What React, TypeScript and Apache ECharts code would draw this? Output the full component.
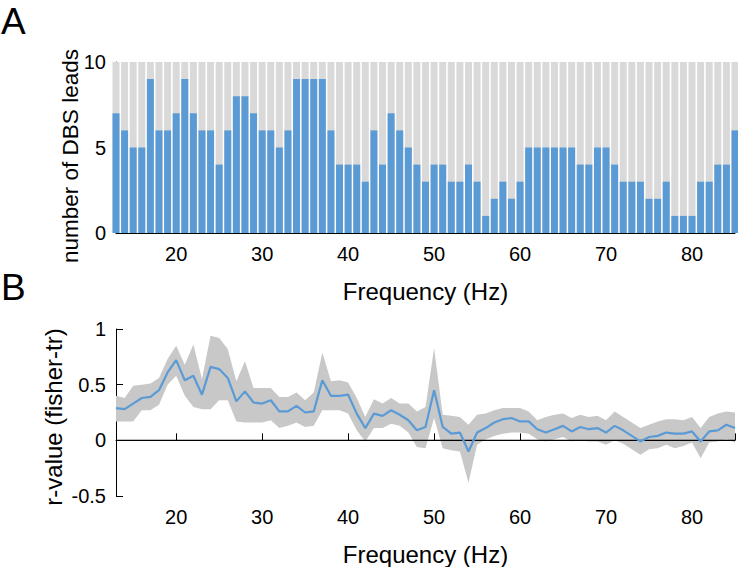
import React, { useEffect, useRef } from 'react';
import * as echarts from 'echarts';

const freqs = [13,14,15,16,17,18,19,20,21,22,23,24,25,26,27,28,29,30,31,32,33,34,35,36,37,38,39,40,41,42,43,44,45,46,47,48,49,50,51,52,53,54,55,56,57,58,59,60,61,62,63,64,65,66,67,68,69,70,71,72,73,74,75,76,77,78,79,80,81,82,83,84,85];

const leads = [7,6,5,5,9,6,6,7,9,7,6,6,4,6,8,8,7,6,6,5,6,9,9,9,9,6,4,4,4,3,6,4,7,6,5,4,3,4,4,3,3,4,3,1,2,3,2,3,5,5,5,5,5,5,4,4,5,5,4,3,3,3,2,2,3,1,1,1,3,3,4,4,6];
const maxLeads = 10;

const rMean = [0.29,0.28,0.33,0.38,0.39,0.45,0.61,0.72,0.54,0.58,0.41,0.66,0.64,0.56,0.35,0.44,0.34,0.33,0.36,0.26,0.26,0.31,0.25,0.26,0.54,0.40,0.40,0.41,0.24,0.11,0.24,0.22,0.27,0.23,0.18,0.09,0.12,
  0.45,0.12,0.06,0.07,-0.10,0.07,0.11,0.16,0.19,0.20,0.17,0.17,0.10,0.07,0.10,0.13,0.08,0.12,0.10,0.11,0.07,0.13,0.09,0.04,-0.01,0.03,0.04,0.07,0.06,0.06,0.08,-0.01,0.08,0.09,0.14,0.11];

const rUpper = [0.40,0.38,0.49,0.50,0.51,0.56,0.73,0.85,0.68,0.86,0.55,0.94,0.92,0.82,0.53,0.71,0.47,0.47,0.47,0.39,0.39,0.43,0.36,0.43,0.79,0.53,0.54,0.52,0.38,0.21,0.37,0.33,0.38,0.33,0.33,0.26,0.30,
  0.83,0.23,0.22,0.21,0.14,0.23,0.24,0.27,0.29,0.29,0.29,0.26,0.18,0.21,0.23,0.24,0.20,0.23,0.21,0.22,0.18,0.26,0.21,0.16,0.11,0.14,0.17,0.19,0.19,0.18,0.21,0.11,0.21,0.24,0.26,0.25];

const rLower = [0.17,0.17,0.17,0.27,0.27,0.32,0.50,0.58,0.40,0.30,0.28,0.28,0.36,0.36,0.17,0.16,0.16,0.16,0.18,0.11,0.13,0.16,0.12,0.13,0.27,0.27,0.27,0.24,0.09,-0.01,0.11,0.11,0.15,0.13,0.07,-0.06,-0.07,
  0.20,-0.07,-0.09,-0.10,-0.38,-0.04,0.01,0.04,0.06,0.07,0.07,0.06,0.01,-0.01,0.01,0.03,-0.01,0.00,-0.01,-0.01,-0.04,0.00,-0.03,-0.08,-0.13,-0.08,-0.07,-0.04,-0.07,-0.05,-0.02,-0.16,-0.02,-0.01,0.01,-0.02];

const xLabel = 'Frequency (Hz)';
const yLabelA = 'number of DBS leads';
const yLabelB = 'r-value (fisher-tr)';

export default function App() {
  const ref = useRef<HTMLDivElement>(null);
  useEffect(() => {
    const chart = echarts.init(ref.current!, null, { renderer: 'svg' });
    const font = '"Liberation Sans", Arial, Helvetica, sans-serif';
    const blue = '#5b9bd5';
    const xMin = freqs[0];
    const xMax = freqs[freqs.length - 1];
    const xAxisBase = (gridIndex: number) => ({
      type: 'value',
      gridIndex,
      min: xMin,
      max: xMax,
      minInterval: 10,
      maxInterval: 10,
      axisLine: { show: true, lineStyle: { color: '#000', width: 1 } },
      axisTick: { show: true, inside: true, length: gridIndex === 0 ? 2 : 7, lineStyle: { color: '#000' } },
      axisLabel: {
        color: '#000', fontSize: 20, fontFamily: font, margin: 11,
        formatter: (v: number) => (v % 10 === 0 ? String(v) : ''),
      },
      splitLine: { show: false },
      name: xLabel,
      nameLocation: 'middle',
      nameGap: 46,
      nameTextStyle: { color: '#000', fontSize: 24, fontFamily: font },
    });
    const bandData = [[xMin, 0]];
    chart.setOption({
      animation: false,
      backgroundColor: '#fff',
      textStyle: { fontFamily: font },
      graphic: [
        { type: 'text', left: 1, top: 3, style: { text: 'A', fontSize: 37, fontFamily: font, fill: '#000' } },
        { type: 'text', left: 1, top: 269, style: { text: 'B', fontSize: 37, fontFamily: font, fill: '#000' } },
        {
          type: 'text', x: 70, y: 156, rotation: Math.PI / 2,
          style: { text: yLabelA, fontSize: 22.5, fontFamily: font, fill: '#000', align: 'center', verticalAlign: 'middle' },
        },
        {
          type: 'text', x: 53, y: 417, rotation: Math.PI / 2,
          style: { text: yLabelB, fontSize: 24, fontFamily: font, fill: '#000', align: 'center', verticalAlign: 'middle' },
        },
      ],
      grid: [
        { left: 116, top: 62, width: 622, height: 171 },
        { left: 116, top: 329, width: 622, height: 170 },
      ],
      xAxis: [xAxisBase(0), xAxisBase(1)],
      yAxis: [
        {
          type: 'value', gridIndex: 0, min: 0, max: maxLeads, interval: 5,
          axisLine: { show: true, lineStyle: { color: '#333', width: 1 } },
          axisTick: { show: true, inside: true, length: 2, lineStyle: { color: '#000' } },
          axisLabel: { color: '#000', fontSize: 20, fontFamily: font, margin: 10 },
          splitLine: { show: false },
        },
        {
          type: 'value', gridIndex: 1, min: -0.5, max: 1, interval: 0.5,
          axisLine: { show: true, lineStyle: { color: '#000', width: 1 } },
          axisTick: { show: true, inside: true, length: 7, lineStyle: { color: '#000' } },
          axisLabel: { color: '#000', fontSize: 20, fontFamily: font, margin: 10 },
          splitLine: { show: false },
        },
      ],
      series: [
        {
          type: 'bar', xAxisIndex: 0, yAxisIndex: 0,
          data: freqs.map((f) => [f, maxLeads]),
          barWidth: 7,
          clip: true,
          silent: true,
          itemStyle: { color: '#d9d9d9' },
        },
        {
          type: 'bar', xAxisIndex: 0, yAxisIndex: 0,
          data: freqs.map((f, i) => [f, leads[i]]),
          barWidth: 7,
          barGap: '-100%',
          clip: true,
          itemStyle: { color: blue },
        },
        {
          type: 'custom', xAxisIndex: 1, yAxisIndex: 1,
          data: bandData,
          clip: true,
          z: 1,
          renderItem: (params: any, api: any) => {
            const pts: number[][] = [];
            for (let i = 0; i < freqs.length; i++) pts.push(api.coord([freqs[i], rUpper[i]]));
            for (let i = freqs.length - 1; i >= 0; i--) pts.push(api.coord([freqs[i], rLower[i]]));
            return { type: 'polygon', shape: { points: pts }, style: { fill: '#c8c8c8' } };
          },
        },
        {
          type: 'line', xAxisIndex: 1, yAxisIndex: 1, z: 2,
          data: [[xMin, 0], [xMax, 0]],
          symbol: 'none',
          lineStyle: { color: '#000', width: 1.3 },
        },
        {
          type: 'line', xAxisIndex: 1, yAxisIndex: 1, z: 3,
          data: freqs.map((f, i) => [f, rMean[i]]),
          symbol: 'none',
          lineStyle: { color: blue, width: 2.2 },
        },
      ],
    });
    return () => chart.dispose();
  }, []);
  return <div ref={ref} style={{ position: 'absolute', left: 0, top: 0, width: 738, height: 567 }} />;
}
